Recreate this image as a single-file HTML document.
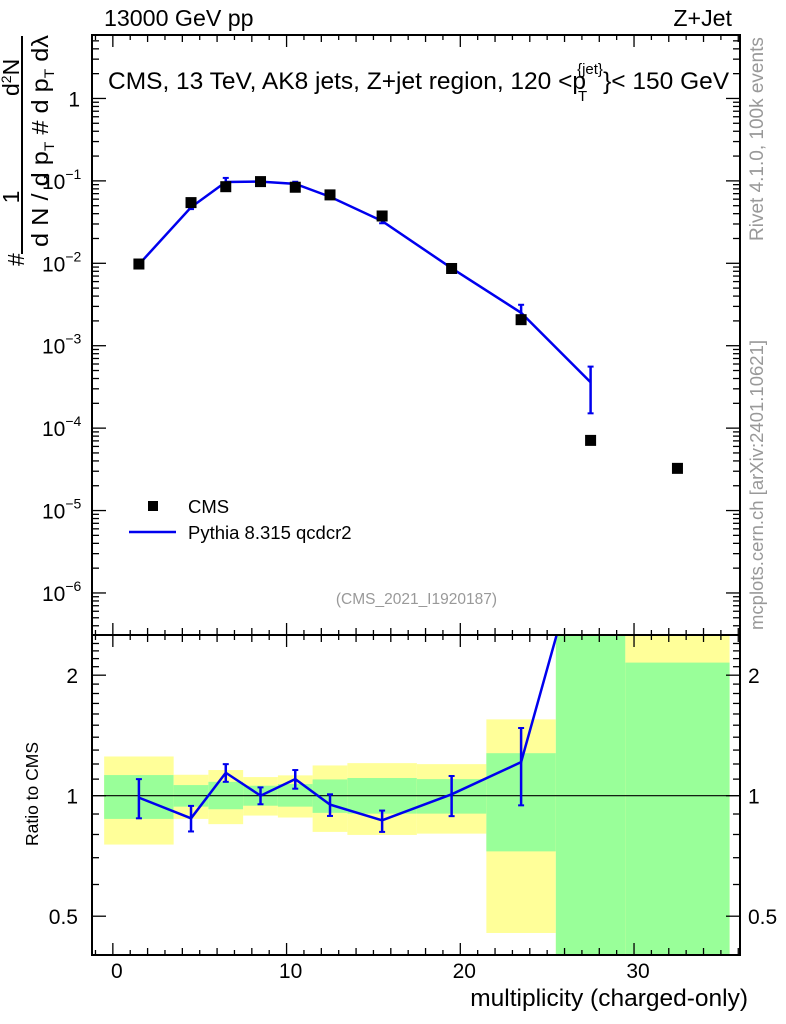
<!DOCTYPE html>
<html><head><meta charset="utf-8"><style>
html,body{margin:0;padding:0;background:#fff;width:786px;height:1024px;overflow:hidden;}
svg{display:block;font-family:"Liberation Sans",sans-serif;overflow:hidden;}
</style></head><body>
<svg id="c" width="786" height="1024" xmlns="http://www.w3.org/2000/svg">
<text x="104" y="26" font-size="23.2">13000 GeV pp</text>
<text x="732" y="26" font-size="23.2" text-anchor="end">Z+Jet</text>
<text x="108" y="89" font-size="24.5">CMS, 13 TeV, AK8 jets, Z+jet region, 120 &lt;p<tspan font-size="15" dx="-9" dy="-15">{jet}</tspan><tspan font-size="15" dx="-25" dy="27">T</tspan><tspan dx="16" dy="-12">}&lt; 150 GeV</tspan></text>
<g>
<rect x="148" y="501" width="10" height="10" fill="#000"/>
<text x="188" y="513" font-size="18.5">CMS</text>
<line x1="129" x2="176" y1="532" y2="532" stroke="#0000ee" stroke-width="2.5"/>
<text x="188" y="539" font-size="18.5">Pythia 8.315 qcdcr2</text>
</g>
<text x="497" y="604" font-size="15.5" fill="#999" text-anchor="end">(CMS_2021_I1920187)</text>
<text transform="translate(763,241) rotate(-90)" font-size="19" fill="#999">Rivet 4.1.0,  100k events</text>
<text transform="translate(763,630) rotate(-90)" font-size="18.5" fill="#999">mcplots.cern.ch [arXiv:2401.10621]</text>
<text x="748" y="1006" font-size="24.5" text-anchor="end">multiplicity (charged-only)</text>
<text transform="translate(38,794) rotate(-90)" font-size="17.5" text-anchor="middle">Ratio to CMS</text>
<g font-size="23">
<line x1="22" x2="22" y1="36" y2="254" stroke="#000" stroke-width="2"/>
<text transform="translate(24,266) rotate(-90)">#</text>
<text transform="translate(19,197) rotate(-90)" text-anchor="middle">1</text>
<text transform="translate(19,96) rotate(-90)">d<tspan font-size="14" dy="-8">2</tspan><tspan dy="8">N</tspan></text>
<text transform="translate(48,247) rotate(-90)" textLength="212" lengthAdjust="spacingAndGlyphs">d N / d p<tspan font-size="14" dy="6">T</tspan><tspan dy="-6"> # d p</tspan><tspan font-size="14" dy="6">T</tspan><tspan dy="-6"> dλ</tspan></text>
</g>
</svg>
<script>
const binLo=[-0.5,3.5,5.5,7.5,9.5,11.5,13.5,17.5,21.5,25.5,29.5];
const binHi=[3.5,5.5,7.5,9.5,11.5,13.5,17.5,21.5,25.5,29.5,35.5];
const centers=[1.5,4.5,6.5,8.5,10.5,12.5,15.5,19.5,23.5,27.5,32.5];
const cmsVals=[0.0098,0.0545,0.085,0.098,0.0837,0.0676,0.0375,0.00865,0.00207,0.000071,0.0000325];
const mcRatio=[0.989,0.878,1.141,1.0,1.1,0.95,0.868,1.008,1.213,5.07];
const mcRatioUp=[1.1,0.943,1.199,1.049,1.159,1.008,0.918,1.12,1.476,7.9];
const mcRatioDn=[0.878,0.814,1.083,0.952,1.041,0.89,0.812,0.889,0.946,2.8];
const greenUp=[1.126,1.063,1.083,1.059,1.069,1.098,1.107,1.1,1.277,10,2.15];
const greenDn=[0.875,0.939,0.925,0.944,0.939,0.906,0.902,0.902,0.726,0.1,0.1];
const yellowUp=[1.253,1.128,1.159,1.113,1.124,1.19,1.206,1.199,1.551,10,10];
const yellowDn=[0.755,0.875,0.849,0.892,0.882,0.812,0.798,0.804,0.454,0.1,0.1];
const mainUp=[1.1,1.06,1.12,1.05,1.06,1.05,1.06,1.06,1.25,1.55];
const mainDn=[0.92,0.95,0.95,0.96,0.95,0.95,0.94,0.95,0.85,0.42];
const xTicks=[0,10,20,30];
const yDecades=[-6,-5,-4,-3,-2,-1,0];
const rTicks=[0.5,1,2];

const svg=document.getElementById('c');
const NS='http://www.w3.org/2000/svg';
const L=92,R=740,T1=35,B1=635,B2=955;
const X0=-1.2,X1=36.1;
const sx=v=>L+(v-X0)/(X1-X0)*(R-L);
const LMIN=-6.51,LMAX=0.77;
const sy=v=>B1-(Math.log10(v)-LMIN)/(LMAX-LMIN)*(B1-T1);
const RMIN=Math.log10(0.4),RMAX=Math.log10(2.52);
const sr=v=>B2-(Math.log10(v)-RMIN)/(RMAX-RMIN)*(B2-B1);
function el(tag,attrs,parent){const e=document.createElementNS(NS,tag);for(const k in attrs)e.setAttribute(k,attrs[k]);(parent||svg).appendChild(e);return e;}
function txt(x,y,s,size,attrs,parent){const t=el('text',Object.assign({x:x,y:y,'font-size':size},attrs||{}),parent);t.textContent=s;return t;}

const defs=el('defs',{});
const cp=el('clipPath',{id:'rclip'},defs);el('rect',{x:L,y:B1,width:R-L,height:B2-B1},cp);
const cp2=el('clipPath',{id:'mclip'},defs);el('rect',{x:L,y:T1,width:R-L,height:B1-T1},cp2);

const bands=el('g',{'clip-path':'url(#rclip)'});


for(let i=0;i<binLo.length;i++){
  const y=el('rect',{x:sx(binLo[i]),y:sr(yellowUp[i]),width:sx(binHi[i])-sx(binLo[i]),height:sr(yellowDn[i])-sr(yellowUp[i]),fill:'#ffff99'},bands);
  
  
  const g=el('rect',{x:sx(binLo[i]),y:sr(greenUp[i]),width:sx(binHi[i])-sx(binLo[i]),height:sr(greenDn[i])-sr(greenUp[i]),fill:'#99ff99'},bands);
  
  
}
el('line',{x1:L,x2:R,y1:sr(1),y2:sr(1),stroke:'#000','stroke-width':1.2});

const rg=el('g',{'clip-path':'url(#rclip)'});


el('polyline',{points:mcRatio.map((v,i)=>sx(centers[i])+','+sr(v)).join(' '),fill:'none',stroke:'#0000ee','stroke-width':2.5},rg);
for(let i=0;i<mcRatio.length;i++){
  const x=sx(centers[i]);
  el('line',{x1:x,x2:x,y1:sr(mcRatioUp[i]),y2:sr(mcRatioDn[i]),stroke:'#0000ee','stroke-width':2.5},rg);
  el('line',{x1:x-3,x2:x+3,y1:sr(mcRatioUp[i]),y2:sr(mcRatioUp[i]),stroke:'#0000ee','stroke-width':2},rg);
  el('line',{x1:x-3,x2:x+3,y1:sr(mcRatioDn[i]),y2:sr(mcRatioDn[i]),stroke:'#0000ee','stroke-width':2},rg);
}

const mg=el('g',{'clip-path':'url(#mclip)'});


el('polyline',{points:mcRatio.map((v,i)=>sx(centers[i])+','+sy(v*cmsVals[i])).join(' '),fill:'none',stroke:'#0000ee','stroke-width':2.5},mg);
for(let i=0;i<cmsVals.length;i++){
  const m=el('rect',{x:sx(centers[i])-5.5,y:sy(cmsVals[i])-5.5,width:11,height:11,fill:'#000'});
  
  
}
for(let i=0;i<mcRatio.length;i++){
  const x=sx(centers[i]),v=mcRatio[i]*cmsVals[i];
  el('line',{x1:x,x2:x,y1:sy(v*mainUp[i]),y2:sy(v*mainDn[i]),stroke:'#0000ee','stroke-width':2.5},mg);
  el('line',{x1:x-3,x2:x+3,y1:sy(v*mainUp[i]),y2:sy(v*mainUp[i]),stroke:'#0000ee','stroke-width':2},mg);
  el('line',{x1:x-3,x2:x+3,y1:sy(v*mainDn[i]),y2:sy(v*mainDn[i]),stroke:'#0000ee','stroke-width':2},mg);
}

el('rect',{x:L,y:T1,width:R-L,height:B1-T1,fill:'none',stroke:'#000','stroke-width':2});
el('rect',{x:L,y:B1,width:R-L,height:B2-B1,fill:'none',stroke:'#000','stroke-width':2});

for(let v=-1;v<=36;v++){
  const x=sx(v);const len=v%10===0?12:(v%2===0?7:5);
  [[T1,1],[B1,-1],[B1,1],[B2,-1]].forEach(([y0,d])=>el('line',{x1:x,x2:x,y1:y0,y2:y0+d*len,stroke:'#000','stroke-width':1.3}));
}
xTicks.forEach(v=>{const t=txt(sx(v)+4,978,String(v),21,{'text-anchor':'middle'});});
for(let d=-7;d<=0;d++){for(let m=1;m<=9;m++){const v=m*Math.pow(10,d);const y=sy(v);if(y<T1||y>B1)continue;const len=m===1?14:7;
  el('line',{x1:L,x2:L+len,y1:y,y2:y,stroke:'#000','stroke-width':1.3});el('line',{x1:R,x2:R-len,y1:y,y2:y,stroke:'#000','stroke-width':1.3});}}
yDecades.forEach(d=>{const y=sy(Math.pow(10,d));
  let t;
  if(d===0){t=txt(80,y+8,'1',21,{'text-anchor':'end'});}
  else{t=txt(42,y+8,'10',21,{});const s=el('tspan',{dy:-10,'font-size':14},t);s.textContent='−'+(-d);}
  });
for(let v=0.4;v<=2.5;v+=0.1){const y=sr(v);if(y<B1||y>B2)continue;const maj=[0.5,1,2].some(a=>Math.abs(a-v)<1e-6);const len=maj?14:7;
  el('line',{x1:L,x2:L+len,y1:y,y2:y,stroke:'#000','stroke-width':1.3});el('line',{x1:R,x2:R-len,y1:y,y2:y,stroke:'#000','stroke-width':1.3});}
rTicks.forEach(v=>{const y=sr(v)+8;
  const a=txt(78,y,String(v),21,{'text-anchor':'end'});
  const b=txt(748,y,String(v),21,{});});
</script>
</body></html>
